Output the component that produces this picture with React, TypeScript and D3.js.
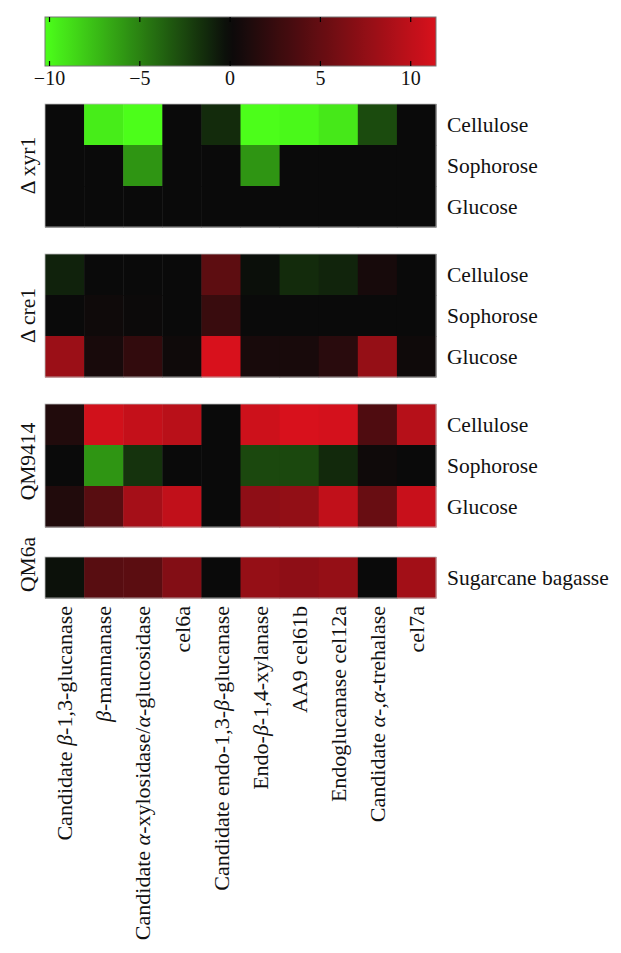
import React from "react";
import * as d3 from "d3";

const genes = [
  "Candidate β-1,3-glucanase",
  "β-mannanase",
  "Candidate α-xylosidase/α-glucosidase",
  "cel6a",
  "Candidate endo-1,3-β-glucanase",
  "Endo-β-1,4-xylanase",
  "AA9 cel61b",
  "Endoglucanase cel12a",
  "Candidate α-,α-trehalase",
  "cel7a",
];

const carbonSources = ["Cellulose", "Sophorose", "Glucose"];
const bagasseSources = ["Sugarcane bagasse"];

const xyr1Values = [
  [0, -9.5, -10.2, 0, -1.4, -10.2, -10, -9.3, -2.7, 0],
  [0, 0, -5.8, 0, 0, -5.8, 0, 0, 0, 0],
  [0, 0, 0, 0, 0, 0, 0, 0, 0, 0],
];

const cre1Values = [
  [-1.0, 0, 0, 0, 4.6, -0.2, -1.4, -1.1, 0.7, 0],
  [0, 0.3, 0.1, 0, 2.6, 0, 0, 0, 0, 0],
  [8.0, 0.8, 2.2, 0.3, 11.4, 0.8, 0.8, 1.7, 7.7, 0.3],
];

const qm9414Values = [
  [1.3, 11.0, 10.3, 9.7, 0, 10.8, 11.4, 11.2, 3.8, 9.5],
  [0, -5.8, -1.7, 0, 0, -2.6, -2.6, -1.3, 0.3, 0],
  [1.3, 4.3, 8.6, 10.1, 0, 7.3, 7.5, 10.1, 5.2, 10.5],
];

const qm6aValues = [[-0.3, 4.3, 4.5, 6.7, 0, 7.7, 7.3, 7.7, 0, 8.4]];

const strains = ["Δ xyr1", "Δ cre1", "QM9414", "QM6a"];
const colorTicks = [-10, -5, 0, 5, 10];
const colorDomain = [-10.25, 0, 11.4];

const FONT = "'Liberation Serif', 'DejaVu Serif', serif";

function GreekText({ text }: { text: string }) {
  const parts = text.split(/([αβ])/).filter((p) => p.length > 0);
  return (
    <>
      {parts.map((p, i) =>
        p === "α" || p === "β" ? (
          <tspan key={i} fontStyle="italic">
            {p}
          </tspan>
        ) : (
          <tspan key={i}>{p}</tspan>
        )
      )}
    </>
  );
}

export default function App() {
  const W = 621;
  const H = 953;
  const left = 45;
  const right = 436;
  const rowH = 41;

  const color = d3
    .scaleLinear<string>()
    .domain(colorDomain)
    .range(["#4cff1a", "#0a0a0a", "#d8111c"])
    .interpolate(d3.interpolateRgb)
    .clamp(true);

  const x = d3.scaleBand<string>().domain(genes).range([left, right]);

  const panels = [
    { name: strains[0], rows: carbonSources, values: xyr1Values, top: 104, labelShift: 0 },
    { name: strains[1], rows: carbonSources, values: cre1Values, top: 254, labelShift: 0 },
    { name: strains[2], rows: carbonSources, values: qm9414Values, top: 404, labelShift: -4 },
    { name: strains[3], rows: bagasseSources, values: qm6aValues, top: 557, labelShift: -13 },
  ];

  const cbTop = 17;
  const cbBottom = 66;
  const cbScale = d3
    .scaleLinear()
    .domain([colorDomain[0], colorDomain[2]])
    .range([left, right]);
  const stops = d3.range(0, 1.0001, 0.02).map((t) => {
    const v = colorDomain[0] + t * (colorDomain[2] - colorDomain[0]);
    return { off: t, c: color(v) };
  });

  const lastPanel = panels[panels.length - 1];
  const labelTop = lastPanel.top + lastPanel.rows.length * rowH + 8;

  return (
    <svg
      width={W}
      height={H}
      style={{ position: "absolute", left: 0, top: 0, background: "#fff" }}
      fontFamily={FONT}
    >
      <defs>
        <linearGradient id="cb" x1="0" x2="1" y1="0" y2="0">
          {stops.map((s, i) => (
            <stop key={i} offset={s.off} stopColor={s.c} />
          ))}
        </linearGradient>
      </defs>

      {/* colorbar */}
      <rect
        x={left}
        y={cbTop}
        width={right - left}
        height={cbBottom - cbTop}
        fill="url(#cb)"
        stroke="#777"
        strokeWidth={1}
      />
      {colorTicks.map((t) => (
        <g key={t}>
          <line
            x1={cbScale(t)}
            x2={cbScale(t)}
            y1={cbTop}
            y2={cbTop + 5}
            stroke="#000"
            strokeWidth={1.2}
          />
          <line
            x1={cbScale(t)}
            x2={cbScale(t)}
            y1={cbBottom}
            y2={cbBottom - 5}
            stroke="#000"
            strokeWidth={1.2}
          />
          <text
            x={cbScale(t)}
            y={cbBottom + 19}
            textAnchor="middle"
            fontSize={20}
            fill="#111"
          >
            {t < 0 ? "\u2212" + Math.abs(t) : String(t)}
          </text>
        </g>
      ))}

      {panels.map((p) => {
        const y = d3
          .scaleBand<string>()
          .domain(p.rows)
          .range([p.top, p.top + p.rows.length * rowH]);
        const bottom = p.top + p.rows.length * rowH;
        return (
          <g key={p.name}>
            {p.rows.map((r, ri) =>
              genes.map((g, gi) => (
                <rect
                  key={r + g}
                  x={x(g)}
                  y={y(r)}
                  width={x.bandwidth() + 0.5}
                  height={y.bandwidth() + 0.5}
                  fill={color(p.values[ri][gi])}
                />
              ))
            )}
            <rect
              x={left}
              y={p.top}
              width={right - left}
              height={bottom - p.top}
              fill="none"
              stroke="#bbb"
              strokeWidth={0.8}
            />
            {p.rows.map((r) => (
              <text
                key={r}
                x={right + 11}
                y={(y(r) as number) + y.bandwidth() / 2}
                dy="0.35em"
                fontSize={21.5}
                fill="#111"
              >
                {r}
              </text>
            ))}
            <text
              transform={`translate(35, ${(p.top + bottom) / 2 + p.labelShift}) rotate(-90)`}
              textAnchor="middle"
              fontSize={21.5}
              fill="#111"
            >
              {p.name}
            </text>
          </g>
        );
      })}

      {genes.map((g) => (
        <text
          key={g}
          transform={`translate(${(x(g) as number) + x.bandwidth() / 2}, ${labelTop}) rotate(-90)`}
          textAnchor="end"
          dy="0.35em"
          fontSize={22}
          fill="#111"
        >
          <GreekText text={g} />
        </text>
      ))}
    </svg>
  );
}
